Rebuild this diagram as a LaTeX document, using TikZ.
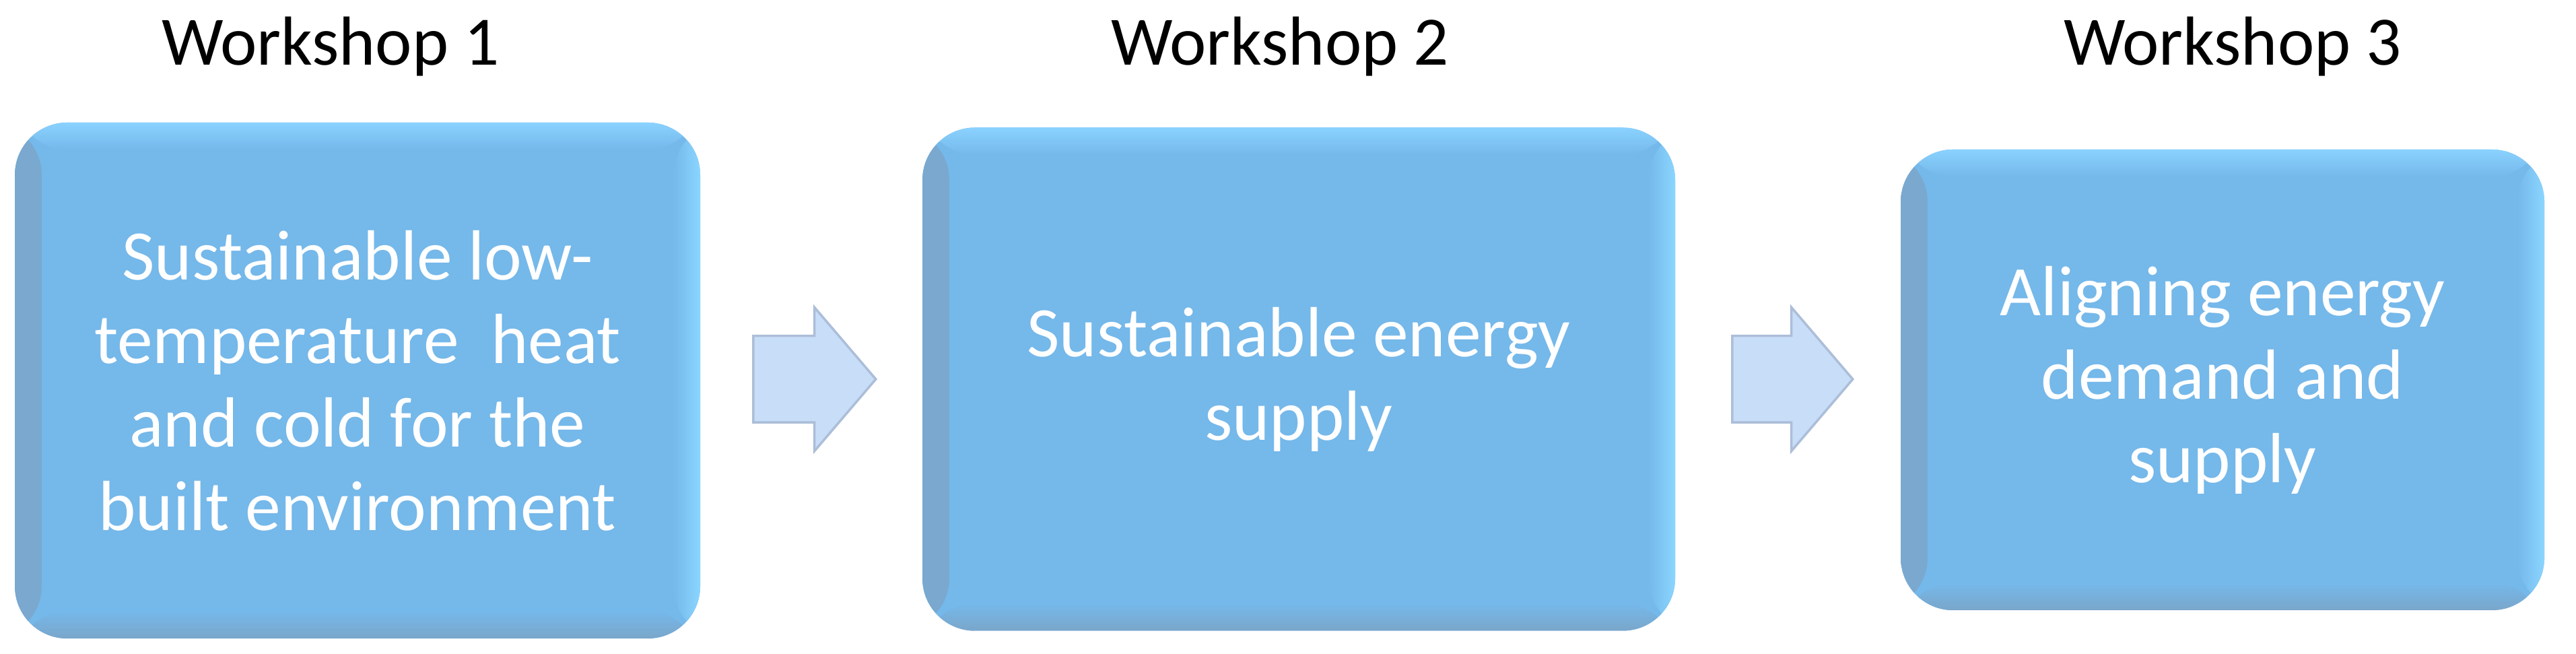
\documentclass[tikz,border=0pt]{standalone}
\usepackage{fontspec}
\setmainfont{Carlito}
\usetikzlibrary{shapes.arrows}
\definecolor{wsfill}{RGB}{117,184,234}
\definecolor{wstop}{RGB}{138,210,255}
\definecolor{wsleft}{RGB}{122,168,206}
\definecolor{wsright}{RGB}{138,214,255}
\definecolor{wsbottom}{RGB}{122,166,202}
\definecolor{arrfill}{RGB}{200,222,248}
\definecolor{arredge}{RGB}{172,190,216}

\begin{document}
\begin{tikzpicture}[
    wsbox/.style={rectangle, rounded corners=0.78cm, fill=wsfill, inner sep=0,
        text=white, align=center, font=\fontsize{30pt}{35.3pt}\selectfont,
        path picture={
            \shade[left color=wsleft, right color=wsfill]
                (path picture bounding box.south west) rectangle
                ([xshift=0.4cm]path picture bounding box.north west);
            \shade[left color=wsfill, right color=wsright]
                ([xshift=-0.4cm]path picture bounding box.south east) rectangle
                (path picture bounding box.north east);
            \shade[top color=wstop, bottom color=wsfill]
                ([yshift=-0.4cm]path picture bounding box.north west) rectangle
                (path picture bounding box.north east);
            \shade[top color=wsfill, bottom color=wsbottom]
                (path picture bounding box.south west) rectangle
                ([yshift=0.4cm]path picture bounding box.south east);
        }},
    wstitle/.style={anchor=base, font=\fontsize{29.3pt}{35pt}\selectfont},
    wsarrow/.style={single arrow, fill=arrfill, draw=arredge, line width=1pt,
        anchor=tail, inner xsep=0, inner ysep=0.625cm, minimum height=1.82cm,
        single arrow head extend=0.425cm, single arrow tip angle=99}
]
    \useasboundingbox (0,0) rectangle (38.26,9.71);

    % the three workshops
    \node[wsbox, minimum width=10.18cm, minimum height=7.66cm] (ws1) at (5.31,4.06)
        {Sustainable low-\\temperature\ \ heat\\and cold for the\\built environment};
    \node[wsbox, minimum width=11.18cm, minimum height=7.47cm] (ws2) at (19.29,4.08)
        {Sustainable energy\\supply};
    \node[wsbox, minimum width=9.56cm, minimum height=6.84cm] (ws3) at (33.01,4.07)
        {Aligning energy\\demand and\\supply};

    \node[wstitle] (t1) at (4.91,8.74) {Workshop 1};
    \node[wstitle] (t2) at (19.01,8.74) {Workshop 2};
    \node[wstitle] (t3) at (33.16,8.74) {Workshop 3};

    % arrows in between
    \node[wsarrow] (a1) at (11.17,4.08) {};
    \node[wsarrow, minimum height=1.79cm] (a2) at (25.71,4.08) {};
\end{tikzpicture}
\end{document}
